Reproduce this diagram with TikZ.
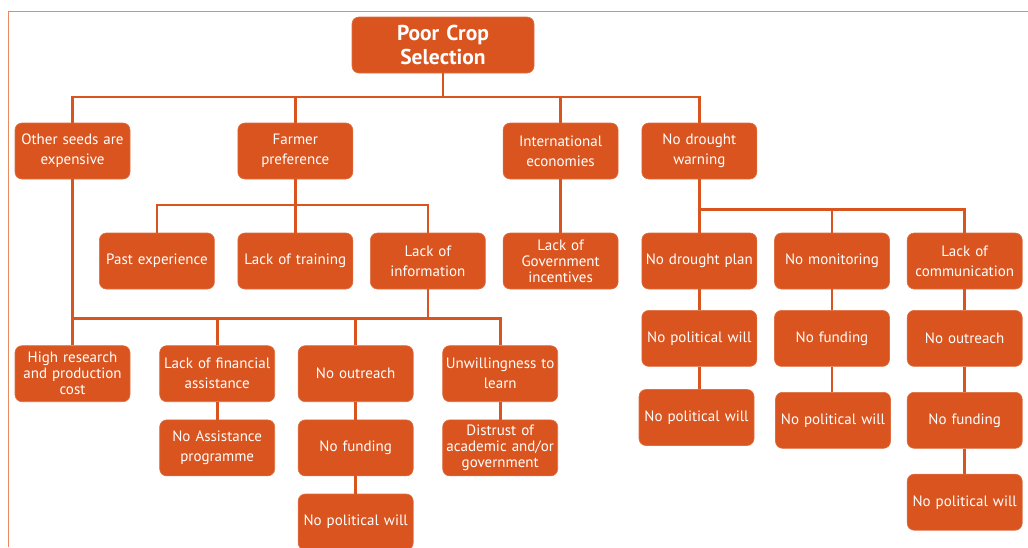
\documentclass[tikz,border=0pt]{standalone}
\usepackage{fontspec}
\setmainfont{PT Sans}
\definecolor{rust}{HTML}{D9541E}
\definecolor{framec}{HTML}{E58A62}
\tikzset{
  box/.style={draw=rust!85!white, line width=0.6pt, fill=rust, rounded corners=7pt,
    minimum width=115pt, minimum height=56pt, inner sep=2pt,
    text=white, align=center, font=\fontsize{15}{20}\selectfont, text width=111pt},
  tight/.style={font=\fontsize{15}{16}\selectfont},
  link/.style={draw=rust, line width=2.6pt},
}
\begin{document}
\begin{tikzpicture}[x=1pt, y=-1pt]
\useasboundingbox (0,0) rectangle (1028,547);
\begin{scope}
\clip (0,0) rectangle (1028,547);
% outer frame
\draw[framec, line width=1pt] (8.6,547) -- (8.6,11) -- (1028,11);

% top
\node[box, minimum width=182pt, minimum height=56pt, text width=178pt,
      font=\fontsize{21.5}{23.5}\selectfont\bfseries] (root) at (443,45) {Poor Crop\\Selection};

% first level
\node[box] (seeds)  at (72.5,151)  {Other seeds are\\expensive};
\node[box] (farmer) at (295.3,151) {Farmer\\preference};
\node[box] (intl)   at (560.6,151) {International\\economies};
\node[box] (warn)   at (699.3,151) {No drought\\warning};

% second level
\node[box] (past)  at (156.9,261) {Past experience};
\node[box] (train) at (295.3,261) {Lack of training};
\node[box] (info)  at (427.9,261) {Lack of\\information};
\node[box, tight] (gov) at (560.6,261) {Lack of\\Government\\incentives};
\node[box] (plan)  at (699.3,261) {No drought plan};
\node[box] (monit) at (832,261)   {No monitoring};
\node[box] (comm)  at (964.7,261) {Lack of\\communication};

% third level, left
\node[box, tight] (high) at (72.5,373.7) {High research\\and production\\cost};
\node[box] (fin)  at (217.2,373.7) {Lack of financial\\assistance};
\node[box] (outr) at (355.7,373.7) {No outreach};
\node[box] (unw)  at (500.2,373.7) {Unwillingness to\\learn};

\node[box] (assist) at (217.2,447.9) {No Assistance\\programme};
\node[box] (fund)   at (355.7,447.9) {No funding};
\node[box, tight] (distrust) at (500.2,447.9) {Distrust of\\academic and/or\\government};
\node[box] (pol) at (355.7,522) {No political will};

% third level, right
\node[box] (pw1)   at (699.3,338.4) {No political will};
\node[box] (fund2) at (832,338.4)   {No funding};
\node[box] (outr2) at (964.7,338.4) {No outreach};

\node[box] (pw2)   at (696.5,417.5) {No political will};
\node[box] (pw3)   at (833,420.3)   {No political will};
\node[box] (fund3) at (964.7,420.3) {No funding};

\node[box] (pw4) at (964.7,502.2) {No political will};

% bus heights
\coordinate (busA) at (0,97);
\coordinate (busB) at (0,205);
\coordinate (busC) at (0,318.3);
\coordinate (busD) at (0,209.3);

% connectors
\draw[link] (root.south) -- (root.south |- busA);
\draw[link] (seeds.north) -- (seeds.north |- busA) -| (warn.north);
\draw[link] (farmer.north) -- (farmer.north |- busA);
\draw[link] (intl.north) -- (intl.north |- busA);

\draw[link] (farmer.south) -- (train.north);
\draw[link] (past.north) -- (past.north |- busB) -| (info.north);

\draw[link] (intl.south) -- (gov.north);

\draw[link] (warn.south) -- (plan.north);
\draw[link] (plan.north |- busD) -| (comm.north);
\draw[link] (monit.north) -- (monit.north |- busD);

\draw[link] (seeds.south) -- (high.north);
\draw[link] (seeds.south |- busC) -| (unw.north);
\draw[link] (info.south) -- (info.south |- busC);
\draw[link] (fin.north) -- (fin.north |- busC);
\draw[link] (outr.north) -- (outr.north |- busC);

\draw[link] (fin.south) -- (assist.north);
\draw[link] (outr.south) -- (fund.north);
\draw[link] (fund.south) -- (pol.north);
\draw[link] (unw.south) -- (distrust.north);

\draw[link] (plan.south) -- (pw1.north);
\draw[link] (pw1.south) -- (pw1.south |- pw2.north);
\draw[link] (monit.south) -- (fund2.north);
\draw[link] (fund2.south) -- (fund2.south |- pw3.north);
\draw[link] (comm.south) -- (outr2.north);
\draw[link] (outr2.south) -- (fund3.north);
\draw[link] (fund3.south) -- (pw4.north);
\end{scope}
\end{tikzpicture}
\end{document}
